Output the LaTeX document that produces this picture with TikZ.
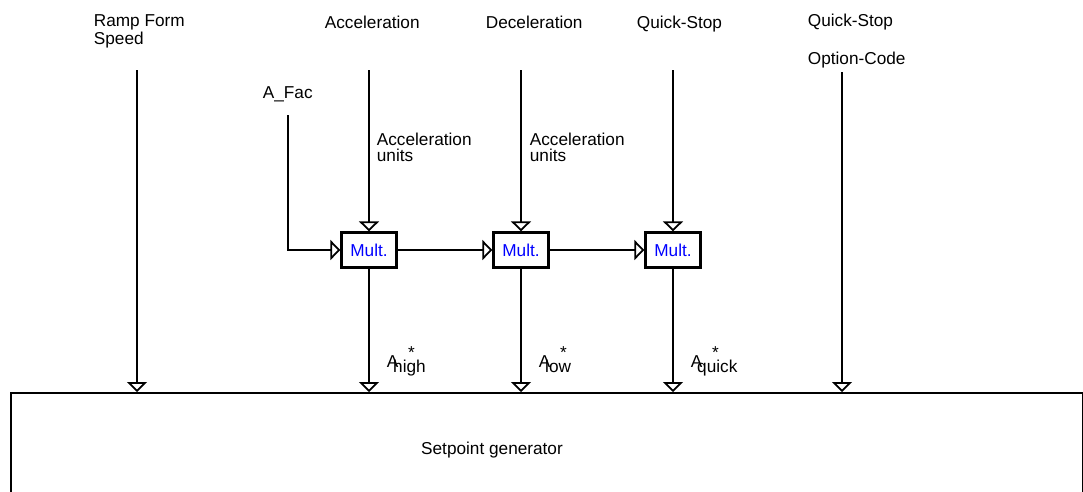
\documentclass[tikz,border=0pt]{standalone}
\usepackage{fontspec}
\setmainfont{Liberation Sans}
\usetikzlibrary{arrows.meta,positioning,calc}
\newcommand{\Astar}[1]{\rlap{\hspace{1.24em}\raisebox{0.5em}{*}}A\kern-0.3em\raisebox{-0.3em}{#1}}

\begin{document}
\begin{tikzpicture}[x=0.02cm, y=-0.02cm, >={Triangle[open, length=2mm, width=4mm]}, line width=1pt,
  font=\fontsize{9.8}{9.1}\selectfont,
  lbl/.style={anchor=base west, inner sep=0pt, align=left},
  mult/.style={draw, line width=1.3pt, fill=white, minimum width=1.1cm, minimum height=0.7cm, inner sep=0pt, text=blue},
  genbox/.style={draw, line width=1.3pt, minimum width=21.44cm, minimum height=2.6cm, anchor=north west, inner sep=0pt}]
\useasboundingbox (0,0) rectangle (1083,491);
\clip (0,0) rectangle (1083,491);
%% inputs along the top
\node[lbl] (ramp) at (93,44) {Ramp Form\\Speed};
\node[lbl] (acc) at (324,28) {Acceleration};
\node[lbl] (dec) at (485,28) {Deceleration};
\node[lbl] (qs) at (636,28) {Quick-Stop};
\node[lbl] (qsopt) at (807,64) {Quick-Stop\\[0.4cm]Option-Code};
\node[lbl] (afac) at (262,98) {A\_Fac};
\node[lbl] (accu) at (376,161) {Acceleration\\units};
\node[lbl] (decu) at (529,161) {Acceleration\\units};
\coordinate (ramps) at (137,70);
\coordinate (accs) at (369,70);
\coordinate (decs) at (521,70);
\coordinate (qss) at (673,70);
\coordinate (opts) at (842,72);
\coordinate (afacs) at (288,115);
%% multipliers
\node[mult] (m1) at (369,250) {Mult.};
\node[mult] (m2) at (521,250) {Mult.};
\node[mult] (m3) at (673,250) {Mult.};
%% setpoint generator
\node[genbox] (gen) at (10,392) {};
\node (gentxt) at (492,450) {Setpoint generator};
\node[lbl] (ahigh) at (386,367) {\Astar{high}};
\node[lbl] (alow) at (538,367) {\Astar{low}};
\node[lbl] (aquick) at (690,367) {\Astar{quick}};
\draw[->] (ramps) -- (ramps |- gen.north);
\draw[->] (accs) -- (m1);
\draw[->] (decs) -- (m2);
\draw[->] (qss) -- (m3);
\draw[->] (opts) -- (opts |- gen.north);
\draw[->] (afacs) |- (m1);
\draw[->] (m1) -- (m2);
\draw[->] (m2) -- (m3);
\draw[->] (m1) -- (m1 |- gen.north);
\draw[->] (m2) -- (m2 |- gen.north);
\draw[->] (m3) -- (m3 |- gen.north);
\end{tikzpicture}
\end{document}
